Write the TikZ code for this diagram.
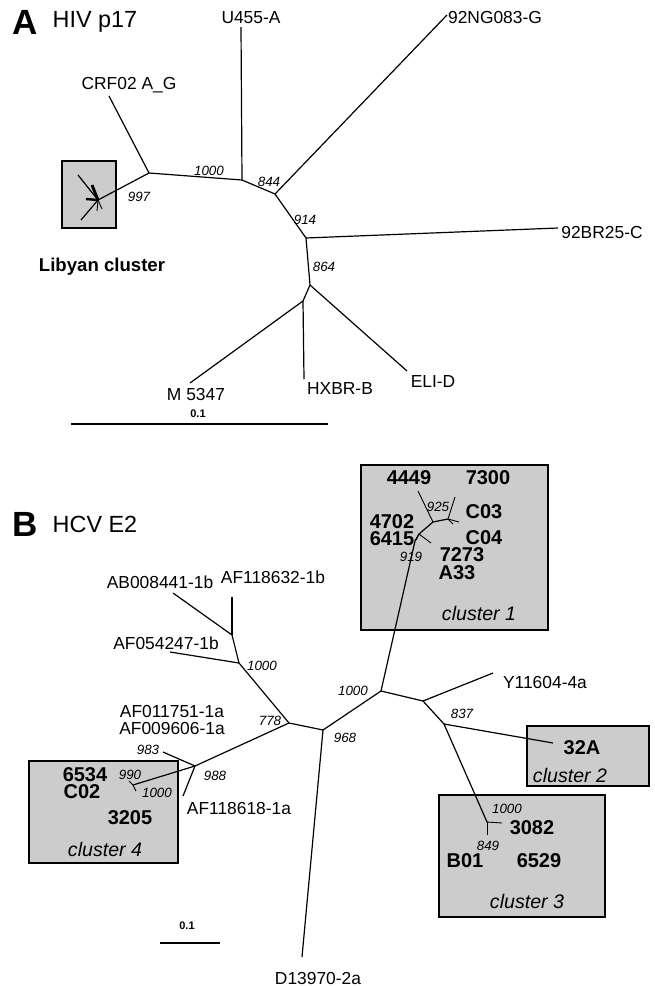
\documentclass[tikz,border=0pt]{standalone}
\usepackage{fontspec}
\setmainfont{Liberation Sans}
\usetikzlibrary{positioning, calc}

\begin{document}
\begin{tikzpicture}[
            x=0.5pt, y=-0.5pt,
            title_style/.style={inner sep=0pt, font=\fontsize{17.5pt}{18pt}\selectfont\bfseries},
            name_style/.style={inner sep=0pt, font=\fontsize{11.7pt}{12pt}\selectfont},
            taxon_style/.style={inner sep=0pt, font=\fontsize{8.7pt}{9pt}\selectfont},
            boot_style/.style={inner sep=0pt, font=\fontsize{6.7pt}{7pt}\selectfont\itshape},
            strain_style/.style={inner sep=0pt, font=\fontsize{10pt}{10pt}\selectfont\bfseries},
            cluster_style/.style={inner sep=0pt, font=\fontsize{9.8pt}{10pt}\selectfont\itshape},
            scale_style/.style={inner sep=0pt, font=\fontsize{5.5pt}{6pt}\selectfont\bfseries},
            box_style/.style={draw, line width=0.6pt, fill=black!20},
            branch/.style={line width=0.6pt},
            twig/.style={line width=0.45pt}
        ]

        \useasboundingbox (0,0) rectangle (654,986);
        \fill [white] (0,0) rectangle (654,986);

        % Panel A: HIV p17
        \node (titleA) [title_style] at (25,22) {A};
        \node (geneA) [name_style] at (95,22) {HIV p17};

        \draw [box_style] (62,161) rectangle (116,228);

        \coordinate (libc) at (98,200);
        \coordinate (jA1) at (149,173);
        \coordinate (jA2) at (242,180);
        \coordinate (jA3) at (275,194);
        \coordinate (jA4) at (306,238);
        \coordinate (jA5) at (310,285);
        \coordinate (jA6) at (303,301);

        \coordinate (crf) at (109,96);
        \coordinate (u455) at (241,27);
        \coordinate (ng083) at (447,15);
        \coordinate (br25) at (558,228);
        \coordinate (eli) at (407,371);
        \coordinate (hxbr) at (304,379);
        \coordinate (m5347) at (190,383);

        \draw [branch] (libc) -- (jA1) -- (jA2) -- (jA3) -- (jA4) -- (jA5) -- (jA6);
        \draw [branch] (jA1) -- (crf);
        \draw [branch] (jA2) -- (u455);
        \draw [branch] (jA3) -- (ng083);
        \draw [branch] (jA4) -- (br25);
        \draw [branch] (jA5) -- (eli);
        \draw [branch] (jA6) -- (hxbr);
        \draw [branch] (jA6) -- (m5347);

        % Libyan cluster twigs
        \coordinate (lib1) at (81,220);
        \coordinate (lib2) at (78,175);
        \coordinate (lib3) at (92,185);
        \coordinate (lib4) at (86,199);
        \coordinate (lib5) at (97,211);
        \coordinate (lib6) at (102,209);
        \draw [branch] (libc) -- (lib1);
        \draw [branch] (libc) -- (lib2);
        \draw [line width=1.4pt] (libc) -- (lib3);
        \draw [line width=1.2pt] (libc) -- (lib4);
        \draw [twig] (libc) -- (lib5);
        \draw [twig] (libc) -- (lib6);

        \node (lCrf) [taxon_style] at (129,85) {CRF02 A\_G};
        \node (lU455) [taxon_style] at (251,18) {U455-A};
        \node (lNg) [taxon_style] at (495,18) {92NG083-G};
        \node (lBr) [taxon_style] at (602,233) {92BR25-C};
        \node (lEli) [taxon_style] at (433,382) {ELI-D};
        \node (lHxbr) [taxon_style] at (340,389) {HXBR-B};
        \node (lM) [taxon_style] at (196,395) {M 5347};
        \node (lLib) [taxon_style, font=\fontsize{9.3pt}{10pt}\selectfont\bfseries] at (102,267) {Libyan cluster};

        \node (bA1) [boot_style] at (139,197) {997};
        \node (bA2) [boot_style] at (209,171) {1000};
        \node (bA3) [boot_style] at (269,182) {844};
        \node (bA4) [boot_style] at (305,220) {914};
        \node (bA5) [boot_style] at (324,267) {864};

        \node (sA) [scale_style] at (198,414) {0.1};
        \coordinate (sA1) at (71,424);
        \coordinate (sA2) at (328,424);
        \draw [branch] (sA1) -- (sA2);

        % Panel B: HCV E2
        \node (titleB) [title_style] at (25,524) {B};
        \node (geneB) [name_style] at (95,524) {HCV E2};

        \draw [box_style] (361,465) rectangle (548,630);
        \draw [box_style] (527,726) rectangle (649,786);
        \draw [box_style] (439,795) rectangle (605,917);
        \draw [box_style] (29,761) rectangle (178,863);

        \coordinate (k1) at (232,635);
        \coordinate (k2) at (239,663);
        \coordinate (k3) at (289,723);
        \coordinate (k4) at (195,766);
        \coordinate (k5) at (323,730);
        \coordinate (k6) at (381,691);
        \coordinate (k7) at (423,701);
        \coordinate (k8) at (444,724);
        \coordinate (k9) at (487,822);

        \coordinate (ab008) at (173,593);
        \coordinate (af632) at (232,597);
        \coordinate (af054) at (170,652);
        \coordinate (t983) at (163,752);
        \coordinate (af618) at (183,796);
        \coordinate (d139) at (302,957);
        \coordinate (y116) at (493,673);
        \coordinate (c32a) at (553,743);
        \coordinate (c4) at (133,785);

        \draw [branch] (k1) -- (k2) -- (k3) -- (k5) -- (k6) -- (k7) -- (k8) -- (k9);
        \draw [branch] (k3) -- (k4) -- (c4);
        \draw [branch] (k1) -- (ab008);
        \draw [branch] (k1) -- (af632);
        \draw [branch] (k2) -- (af054);
        \draw [branch] (k4) -- (t983);
        \draw [branch] (k4) -- (af618);
        \draw [branch] (k5) -- (d139);
        \draw [branch] (k7) -- (y116);
        \draw [branch] (k8) -- (c32a);

        % cluster 4 twigs
        \coordinate (c4a) at (129,781);
        \coordinate (c4b) at (136,791);
        \draw [twig] (c4) -- (c4a);
        \draw [twig] (c4) -- (c4b);

        % cluster 3 twigs
        \coordinate (k9a) at (502,823);
        \coordinate (k9b) at (487,835);
        \draw [twig] (k9) -- (k9a);
        \draw [twig] (k9) -- (k9b);

        % cluster 1 subtree
        \coordinate (m0) at (415,541);
        \coordinate (m1) at (419,534);
        \coordinate (m2) at (433,522);
        \coordinate (m3) at (448,519);
        \coordinate (v4449) at (418,491);
        \coordinate (v7300) at (455,497);
        \coordinate (vC03) at (459,522);
        \coordinate (v7273) at (431,543);
        \coordinate (v6415) at (416,540);
        \coordinate (vC04) at (453,524);
        \draw [branch] (k6) -- (m0) -- (m1) -- (m2) -- (m3);
        \draw [twig] (m2) -- (v4449);
        \draw [twig] (m3) -- (v7300);
        \draw [twig] (m3) -- (vC03);
        \draw [twig] (m3) -- (vC04);
        \draw [twig] (m1) -- (v7273);
        \draw [twig] (m1) -- (v6415);

        \node (lAb) [taxon_style] at (160,582) {AB008441-1b};
        \node (lAf632) [taxon_style] at (273,577) {AF118632-1b};
        \node (lAf054) [taxon_style] at (166,643) {AF054247-1b};
        \node (lAf751) [taxon_style] at (172,712) {AF011751-1a};
        \node (lAf606) [taxon_style] at (172,728) {AF009606-1a};
        \node (lAf618) [taxon_style] at (239,808) {AF118618-1a};
        \node (lD139) [taxon_style] at (318,978) {D13970-2a};
        \node (lY116) [taxon_style] at (545,683) {Y11604-4a};

        \node (bB1) [boot_style] at (262,666) {1000};
        \node (bB2) [boot_style] at (270,721) {778};
        \node (bB3) [boot_style] at (148,750) {983};
        \node (bB4) [boot_style] at (215,776) {988};
        \node (bB5) [boot_style] at (130,775) {990};
        \node (bB6) [boot_style] at (157,793) {1000};
        \node (bB7) [boot_style] at (345,738) {968};
        \node (bB8) [boot_style] at (353,691) {1000};
        \node (bB9) [boot_style] at (462,714) {837};
        \node (bB10) [boot_style] at (438,507) {925};
        \node (bB11) [boot_style] at (411,557) {919};
        \node (bB12) [boot_style] at (507,809) {1000};
        \node (bB13) [boot_style] at (488,846) {849};

        % strains inside clusters
        \node (s4449) [strain_style] at (409,478) {4449};
        \node (s7300) [strain_style] at (488,478) {7300};
        \node (sC03) [strain_style] at (484,512) {C03};
        \node (sC04) [strain_style] at (484,538) {C04};
        \node (s4702) [strain_style] at (392,522) {4702};
        \node (s6415) [strain_style] at (392,539) {6415};
        \node (s7273) [strain_style] at (462,555) {7273};
        \node (sA33) [strain_style] at (457,573) {A33};
        \node (s32A) [strain_style] at (582,748) {32A};
        \node (s3082) [strain_style] at (532,828) {3082};
        \node (sB01) [strain_style] at (465,861) {B01};
        \node (s6529) [strain_style] at (539,861) {6529};
        \node (s6534) [strain_style] at (85,775) {6534};
        \node (sC02) [strain_style] at (82,792) {C02};
        \node (s3205) [strain_style] at (130,818) {3205};

        \node (cl1) [cluster_style] at (479,613) {cluster 1};
        \node (cl2) [cluster_style] at (570,775) {cluster 2};
        \node (cl3) [cluster_style] at (527,901) {cluster 3};
        \node (cl4) [cluster_style] at (105,849) {cluster 4};

        \node (sB) [scale_style] at (187,926) {0.1};
        \coordinate (sB1) at (160,943);
        \coordinate (sB2) at (220,943);
        \draw [branch] (sB1) -- (sB2);

    \end{tikzpicture}
\end{document}
